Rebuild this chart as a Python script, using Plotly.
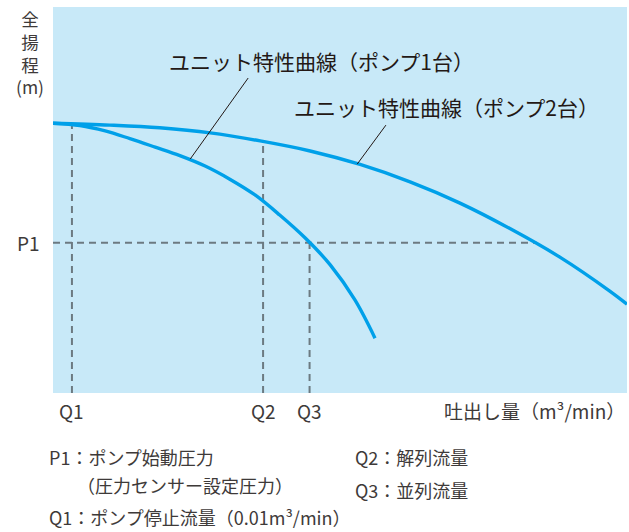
import plotly.graph_objects as go

# ---- data (schematic units, axis 0..10) ----
pump1_q = [0.0, 0.47, 0.91, 1.34, 1.78, 2.21, 2.65, 3.08, 3.52, 3.95, 4.39, 4.83, 5.26, 5.61]
pump1_h = [6.99, 6.93, 6.79, 6.59, 6.37, 6.15, 5.88, 5.54, 5.13, 4.61, 4.02, 3.32, 2.41, 1.42]

pump2_q = [0.0, 0.99, 1.86, 2.74, 3.61, 4.48, 5.35, 6.22, 7.09, 7.96, 8.83, 9.70, 10.0]
pump2_h = [6.99, 6.94, 6.87, 6.74, 6.53, 6.27, 5.92, 5.47, 4.92, 4.26, 3.52, 2.64, 2.30]

P1 = 3.89
Q1, Q2, Q3 = 0.33, 3.66, 4.47
Q1_h, Q2_h = 6.97, 6.52          # heads at Q1 / Q2 on the curves
P1_q_end = 8.43                  # where P1 meets the 2-pump curve

# leader lines: [curve point, end under label]
leader1_q, leader1_h = [2.39, 3.40], [6.06, 8.16]
leader2_q, leader2_h = [5.30, 5.80], [5.93, 6.94]

x_tick_labels = ["Q1", "Q2", "Q3"]
label1 = "ユニット特性曲線（ポンプ1台）"
label2 = "ユニット特性曲線（ポンプ2台）"
y_title_lines = ["全", "揚", "程", "(m)"]
x_title = "吐出し量（m³/min）"
notes_left = ["P1：ポンプ始動圧力", "（圧力センサー設定圧力）", "Q1：ポンプ停止流量（0.01m³/min）"]
notes_right = ["Q2：解列流量", "Q3：並列流量"]

# ---- styles ----
CURVE = "#00a0e9"
DASH = "#6c7a81"
TXT = "#3e3a39"
BG = "#c8e9f8"
FONT = "Noto Sans CJK JP"

W, H = 629, 532
L, R, T, B = 53, 2, 7, 139
PW, PH = W - L - R, H - T - B


def pxx(p):
    return (p - L) / PW


def pxy(p):
    return (H - B - p) / PH


fig = go.Figure()

dash_style = dict(color=DASH, width=2, dash="7px,5px")
fig.add_trace(go.Scatter(x=[0, P1_q_end], y=[P1, P1], mode="lines", line=dash_style, hoverinfo="skip"))
fig.add_trace(go.Scatter(x=[Q1, Q1], y=[0, Q1_h], mode="lines", line=dash_style, hoverinfo="skip"))
fig.add_trace(go.Scatter(x=[Q2, Q2], y=[0, Q2_h], mode="lines", line=dash_style, hoverinfo="skip"))
fig.add_trace(go.Scatter(x=[Q3, Q3], y=[0, P1], mode="lines", line=dash_style, hoverinfo="skip"))

fig.add_trace(go.Scatter(x=pump2_q, y=pump2_h, mode="lines",
                         line=dict(color=CURVE, width=3.4, shape="spline", smoothing=1), hoverinfo="skip"))
fig.add_trace(go.Scatter(x=pump1_q, y=pump1_h, mode="lines",
                         line=dict(color=CURVE, width=3.4, shape="spline", smoothing=1), hoverinfo="skip"))

fig.add_trace(go.Scatter(x=leader1_q, y=leader1_h, mode="lines",
                         line=dict(color="#231815", width=1), hoverinfo="skip"))
fig.add_trace(go.Scatter(x=leader2_q, y=leader2_h, mode="lines",
                         line=dict(color="#231815", width=1), hoverinfo="skip"))


def A(x, y, text, size, xref="paper", yref="paper", xanchor="center", color=TXT):
    return dict(x=x, y=y, xref=xref, yref=yref, text=text, showarrow=False,
                xanchor=xanchor, yanchor="middle",
                font=dict(size=size, color=color, family=FONT))


ann = []
ann.append(A(4.67, 8.60, label1, 21, xref="x", yref="y", color="#231815"))
ann.append(A(6.85, 7.41, label2, 21, xref="x", yref="y", color="#231815"))

for q, t in zip([Q1, Q2, Q3], x_tick_labels):
    ann.append(A(q, pxy(410), t, 19, xref="x"))
ann.append(A(1.0, pxy(410), x_title, 19, xanchor="right"))

ann.append(A(pxx(42), P1, "P1", 19, yref="y", xanchor="right"))

# vertical y-axis title, one block
ann.append(A(pxx(30), pxy(53), "<br>".join(y_title_lines), 17.5))

for t, lx, py in zip(notes_left, [47, 75, 47], [457, 485, 517]):
    ann.append(A(pxx(lx), pxy(py), t, 18, xanchor="left"))
for t, py in zip(notes_right, [457, 490]):
    ann.append(A(pxx(353), pxy(py), t, 18, xanchor="left"))

fig.update_layout(
    width=W, height=H,
    margin=dict(l=L, r=R, t=T, b=B, pad=0),
    paper_bgcolor="white", plot_bgcolor=BG,
    showlegend=False,
    annotations=ann,
    font=dict(family=FONT, color=TXT),
)
fig.update_xaxes(range=[0, 10], showgrid=False, zeroline=False, showticklabels=False, ticks="", showline=False, fixedrange=True)
fig.update_yaxes(range=[0, 10], showgrid=False, zeroline=False, showticklabels=False, ticks="", showline=False, fixedrange=True)

fig.write_html("out.html", config={"displayModeBar": False},
               post_script="document.body.style.margin='0';document.body.style.padding='0';")
